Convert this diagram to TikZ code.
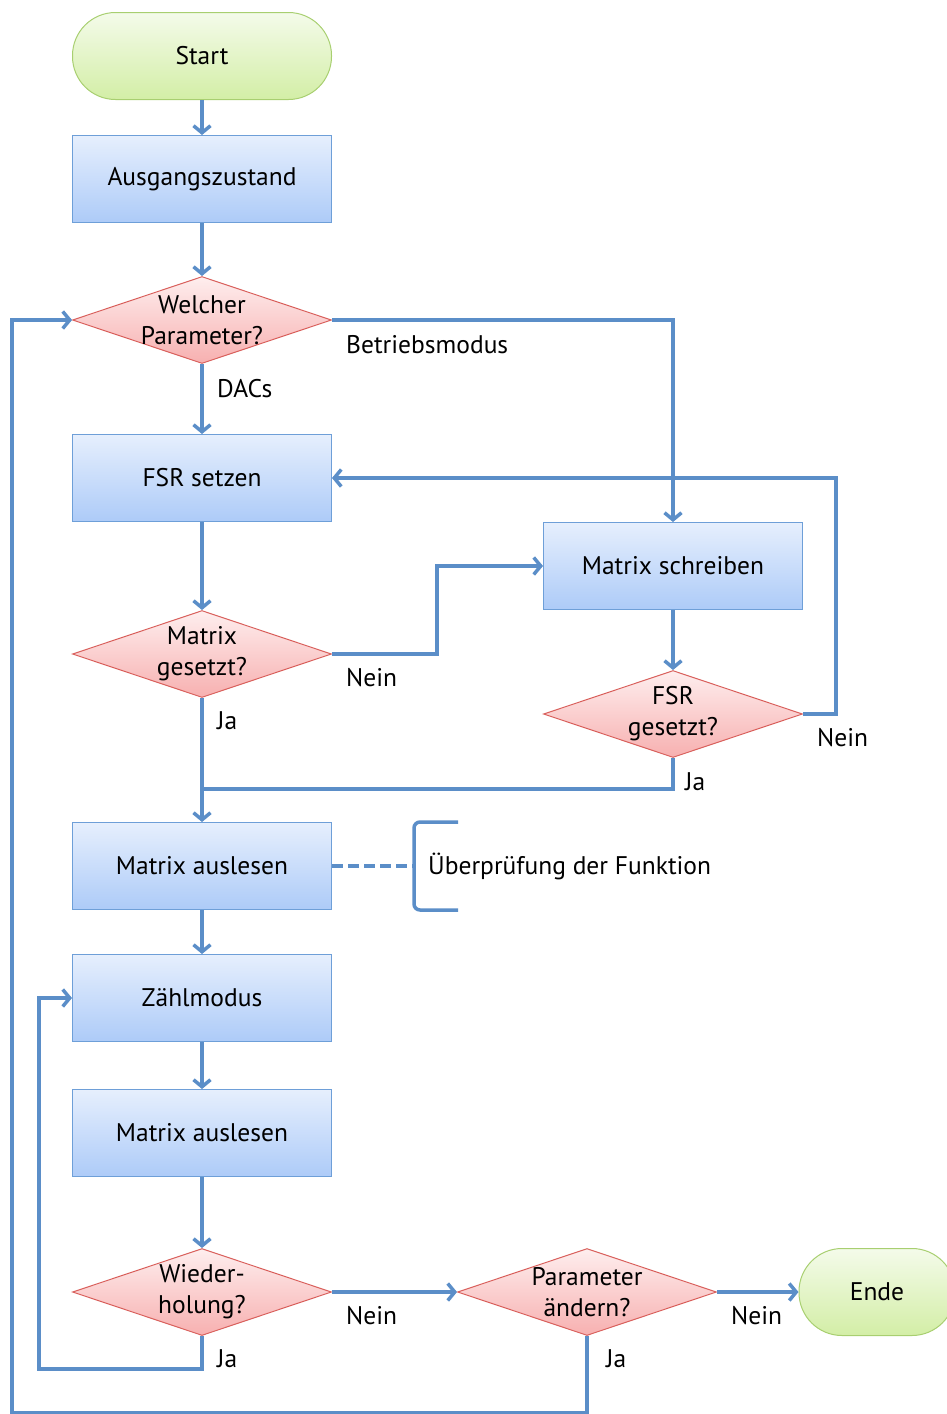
\documentclass[tikz,border=0pt]{standalone}
\usepackage{fontspec}
\setmainfont{PT Sans}
\usetikzlibrary{shapes.geometric,arrows.meta}
\definecolor{flow}{HTML}{5B8EC8}
\definecolor{boxline}{HTML}{6E9FD8}
\definecolor{boxtop}{HTML}{E6EFFD}
\definecolor{boxbot}{HTML}{ADCBF8}
\definecolor{decline}{HTML}{D9605C}
\definecolor{dectop}{HTML}{FEEEEE}
\definecolor{decbot}{HTML}{F7B0B0}
\definecolor{termline}{HTML}{A8CF70}
\definecolor{termtop}{HTML}{F4FBEA}
\definecolor{termbot}{HTML}{D3EEA6}
\begin{document}
\begin{tikzpicture}[x=1pt,y=-1pt,
  txt/.style={font=\fontsize{25.5}{31}\selectfont, text=black},
  procbox/.style={txt, rectangle, draw=boxline, line width=1pt,
    top color=boxtop, bottom color=boxbot,
    minimum width=259pt, minimum height=87pt, inner sep=0pt},
  termbox/.style={txt, rectangle, rounded corners=43pt, draw=termline, line width=1pt,
    top color=termtop, bottom color=termbot,
    minimum height=87pt, inner sep=0pt},
  decision/.style={diamond, draw=decline, line width=1pt,
    top color=dectop, bottom color=decbot,
    minimum width=259pt, minimum height=87pt, inner sep=0pt},
  dectext/.style={txt, align=center, inner sep=0pt},
  lbl/.style={txt, anchor=west, inner sep=0pt},
  flowline/.style={draw=flow, line width=3.5pt},
  arrow/.style={flowline, -{Straight Barb[length=7pt,width=17pt]}}
]
\useasboundingbox (0,0) rectangle (947,1414);
\clip (0,0) rectangle (947,1414);

% nodes
\node[termbox, minimum width=259pt] (start) at (202,56) {Start};
\node[procbox] (init) at (202,179) {Ausgangszustand};
\node[decision, label={[dectext]center:Welcher\\Parameter?}] (param) at (202,320) {};
\node[procbox] (fsr) at (202,478) {FSR setzen};
\node[decision, label={[dectext]center:Matrix\\gesetzt?}] (mset) at (202,654) {};
\node[procbox] (mwrite) at (673,566) {Matrix schreiben};
\node[decision, label={[dectext]center:FSR\\gesetzt?}] (fset) at (673,714) {};
\node[procbox] (read1) at (202,866) {Matrix auslesen};
\node[procbox] (count) at (202,998) {Zählmodus};
\node[procbox] (read2) at (202,1133) {Matrix auslesen};
\node[decision, label={[dectext]center:Wieder-\\holung?}] (repeat) at (202,1292) {};
\node[decision, label={[dectext]center:Parameter\\ändern?}] (change) at (587,1292) {};
\node[termbox, minimum width=156pt] (stop) at (877,1292) {Ende};

% edge labels
\node[lbl] (lDAC) at (217,389) {DACs};
\node[lbl] (lBetr) at (346,345) {Betriebsmodus};
\node[lbl] (lN1) at (346,678) {Nein};
\node[lbl] (lJ1) at (217,721) {Ja};
\node[lbl] (lN2) at (817,738) {Nein};
\node[lbl] (lJ2) at (685,782) {Ja};
\node[lbl] (lJ3) at (217,1359) {Ja};
\node[lbl] (lN3) at (346,1316) {Nein};
\node[lbl] (lN4) at (731,1316) {Nein};
\node[lbl] (lJ4) at (606,1359) {Ja};

% connectors
\draw[arrow] (start) -- (init);
\draw[arrow] (init) -- (param);
\draw[arrow] (param) -- (fsr);
\draw[arrow] (param.east) -| (mwrite.north);
\draw[arrow] (fsr) -- (mset);
\draw[arrow] (mset.east) -- ++(105,0) |- (mwrite.west);
\draw[arrow] (mwrite) -- (fset);
\draw[arrow] (fset.east) -- ++(33,0) |- (fsr.east);
\coordinate (merge) at (202,789);
\draw[flowline] (fset.south) |- (merge);
\draw[arrow] (mset.south) -- (read1.north);
\draw[arrow] (read1) -- (count);
\draw[arrow] (count) -- (read2);
\draw[arrow] (read2) -- (repeat);
\draw[arrow] (repeat.south) -- ++(0,33) -| ([xshift=-33pt]count.west) -- (count.west);
\draw[arrow] (repeat.east) -- (change.west);
\draw[arrow] (change.east) -- (stop.west);
\draw[arrow] (change.south) -- ++(0,77) -| ([xshift=-60pt]param.west) -- (param.west);

% annotation bracket
\coordinate (brtop) at (458,822);
\coordinate (brmid) at (414,866);
\coordinate (brbot) at (458,910);
\draw[flowline, dash pattern=on 11pt off 5pt] (read1.east) -- (brmid);
\draw[flowline, rounded corners=6pt] (brtop) -| (brmid) |- (brbot);
\node[lbl] (check) at (428,866) {Überprüfung der Funktion};
\end{tikzpicture}
\end{document}
